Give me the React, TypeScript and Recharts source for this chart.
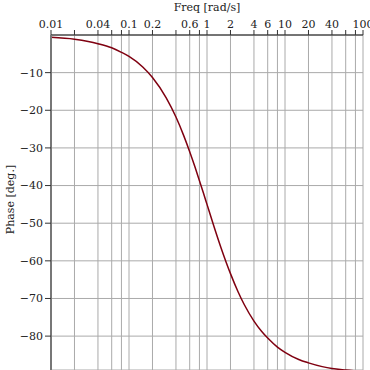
import { LineChart, Line, XAxis, YAxis, CartesianGrid, Label } from 'recharts';

// frequency points (rad/s) and the phase (deg.)
const freqs = [0.01, 0.02, 0.03, 0.04, 0.06, 0.08, 0.1, 0.15, 0.2, 0.3, 0.4, 0.5, 0.6, 0.7, 0.8, 0.9, 1, 1.2, 1.5, 2, 2.5, 3, 4, 5, 6, 8, 10, 15, 20, 30, 40, 60, 100];
const phases = [-0.6, -1.1, -1.7, -2.3, -3.4, -4.6, -5.7, -8.5, -11.3, -16.7, -21.8, -26.6, -31, -35, -38.7, -42, -45, -50.2, -56.3, -63.4, -68.2, -71.6, -76, -78.7, -80.5, -82.9, -84.3, -86.2, -87.1, -88.1, -88.6, -89.0, -89.4];

const freqTicks = [0.01, 0.02, 0.04, 0.06, 0.08, 0.1, 0.2, 0.4, 0.6, 0.8, 1, 2, 4, 6, 8, 10, 20, 40, 60, 80, 100];
const freqLabels = [0.01, 0.04, 0.1, 0.2, 0.6, 1, 2, 4, 6, 10, 20, 40, 100];
const phaseTicks = [-10, -20, -30, -40, -50, -60, -70, -80];

const data = freqs.map((f, i) => ({ freq: f, phase: phases[i] }));

const font = { fontFamily: 'DejaVu Serif', fontSize: 11, fill: '#222' };

export default function App() {
  return (
    <div style={{ position: 'absolute', left: 0, top: 0, background: '#fff' }}>
      <LineChart width={370} height={370} data={data} margin={{ top: 0, right: 7, bottom: 0, left: 0 }}>
        <CartesianGrid stroke="#aaa" strokeWidth={1} />
        <XAxis
          dataKey="freq"
          type="number"
          scale="log"
          orientation="top"
          domain={[0.01, 100]}
          allowDataOverflow
          ticks={freqTicks}
          interval={0}
          height={35}
          tickSize={5}
          tickMargin={2}
          tick={font}
          tickLine={{ stroke: '#333' }}
          axisLine={{ stroke: '#555', strokeWidth: 1.5 }}
          tickFormatter={(v: number) => (freqLabels.includes(v) ? String(v) : '')}
        >
          <Label value="Freq [rad/s]" position="insideTop" offset={3} style={font} />
        </XAxis>
        <YAxis
          type="number"
          domain={[-89, 0]}
          allowDataOverflow
          ticks={phaseTicks}
          interval={0}
          width={51}
          tickSize={6}
          tickMargin={2}
          tick={font}
          tickLine={{ stroke: '#333' }}
          axisLine={{ stroke: '#777', strokeWidth: 2 }}
          tickFormatter={(v: number) => '\u2212' + Math.abs(v)}
        >
          <Label value="Phase [deg.]" angle={-90} position="center" dx={-15} dy={-3} style={font} />
        </YAxis>
        <Line
          dataKey="phase"
          type="monotone"
          stroke="#7f0010"
          strokeWidth={1.5}
          dot={false}
          isAnimationActive={false}
        />
      </LineChart>
    </div>
  );
}
